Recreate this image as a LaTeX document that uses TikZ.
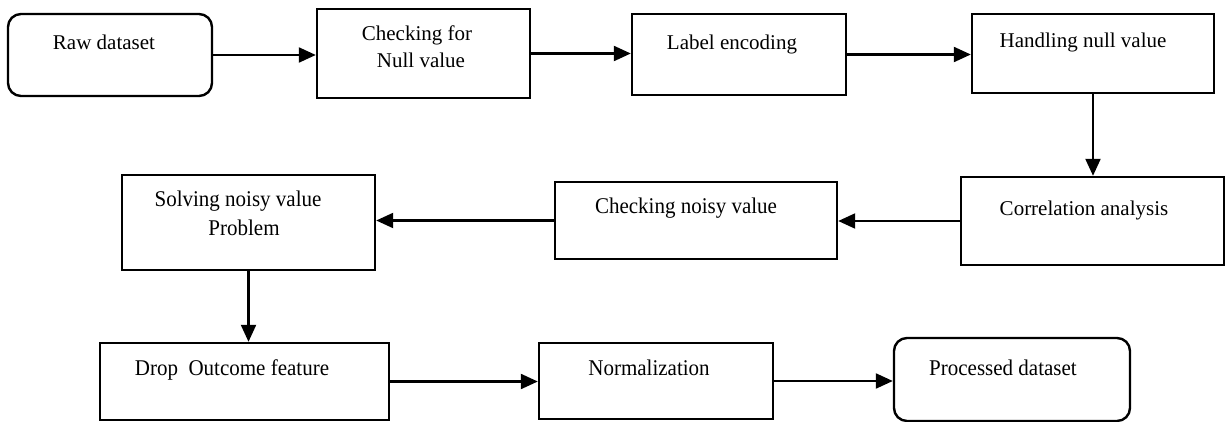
\documentclass[tikz,border=0pt]{standalone}
\usepackage{fontspec}
\setmainfont{Liberation Serif}
\usetikzlibrary{arrows.meta}
\begin{document}
\begin{tikzpicture}[x=1pt,y=-1pt,
  box/.style={draw=black, line width=2.4pt, rectangle, inner sep=0pt},
  rbox/.style={box, rounded corners=13pt},
  lbl/.style={anchor=base, inner sep=0pt, font=\fontsize{21}{28}\selectfont},
  flow/.style={draw=black, line width=2.2pt, -{Triangle[length=17pt,width=15pt]}}]
\useasboundingbox (0,0) rectangle (1225,422);
% process boxes, placed by corners
\newcommand{\procbox}[6][box]{%
  \node[#1, minimum width={#4-#2}, minimum height={#5-#3}] (#6) at ({(#2+#4)/2},{(#3+#5)/2}) {};}
% slightly taller lettering used in the lower rows
\newcommand{\tall}[1]{\scalebox{1}[1.07]{#1}}
\procbox[rbox]{8}{14}{212}{96}{raw}
\procbox{317}{9}{530}{98}{chk}
\procbox{632}{14}{846}{95}{lab}
\procbox{972}{14}{1214}{93}{hnd}
\procbox{961}{177}{1224}{265}{cor}
\procbox{555}{182}{837}{259}{noi}
\procbox{122}{175}{375}{270}{sol}
\procbox{100}{343}{389}{420}{drp}
\procbox{539}{343}{773}{419}{nrm}
\procbox[rbox]{894}{338}{1130}{421}{prc}
% box texts
\node[lbl] (traw) at (104,50) {Raw dataset};
\node[lbl] (tchk1) at (417,41) {Checking for};
\node[lbl] (tchk2) at (421,68) {Null value};
\node[lbl] (tlab) at (732,50) {Label encoding};
\node[lbl] (thnd) at (1083,48) {Handling null value};
\node[lbl] (tcor) at (1084,215) {Correlation analysis};
\node[lbl] (tnoi) at (686,213) {\tall{Checking noisy value}};
\node[lbl] (tsol1) at (238,207) {\tall{Solving noisy value}};
\node[lbl] (tsol2) at (244,235) {\tall{Problem}};
\node[lbl] (tdrp) at (232,375) {\tall{Drop\ \ Outcome feature}};
\node[lbl] (tnrm) at (649,375) {\tall{Normalization}};
\node[lbl] (tprc) at (1003,375) {\tall{Processed dataset}};
% connectors
\draw[flow] (raw.east) -- (raw.east -| chk.west);
\draw[flow] (chk.east) -- (chk.east -| lab.west);
\draw[flow] (lab.east) -- (lab.east -| hnd.west);
\draw[flow] (hnd.south) -- (hnd.south |- cor.north);
\draw[flow] (cor.west) -- (cor.west -| noi.east);
\draw[flow] (noi.west) -- (noi.west -| sol.east);
\draw[flow] (sol.south) -- (sol.south |- drp.north);
\draw[flow] (drp.east) -- (drp.east -| nrm.west);
\draw[flow] (nrm.east) -- (nrm.east -| prc.west);
\end{tikzpicture}
\end{document}
